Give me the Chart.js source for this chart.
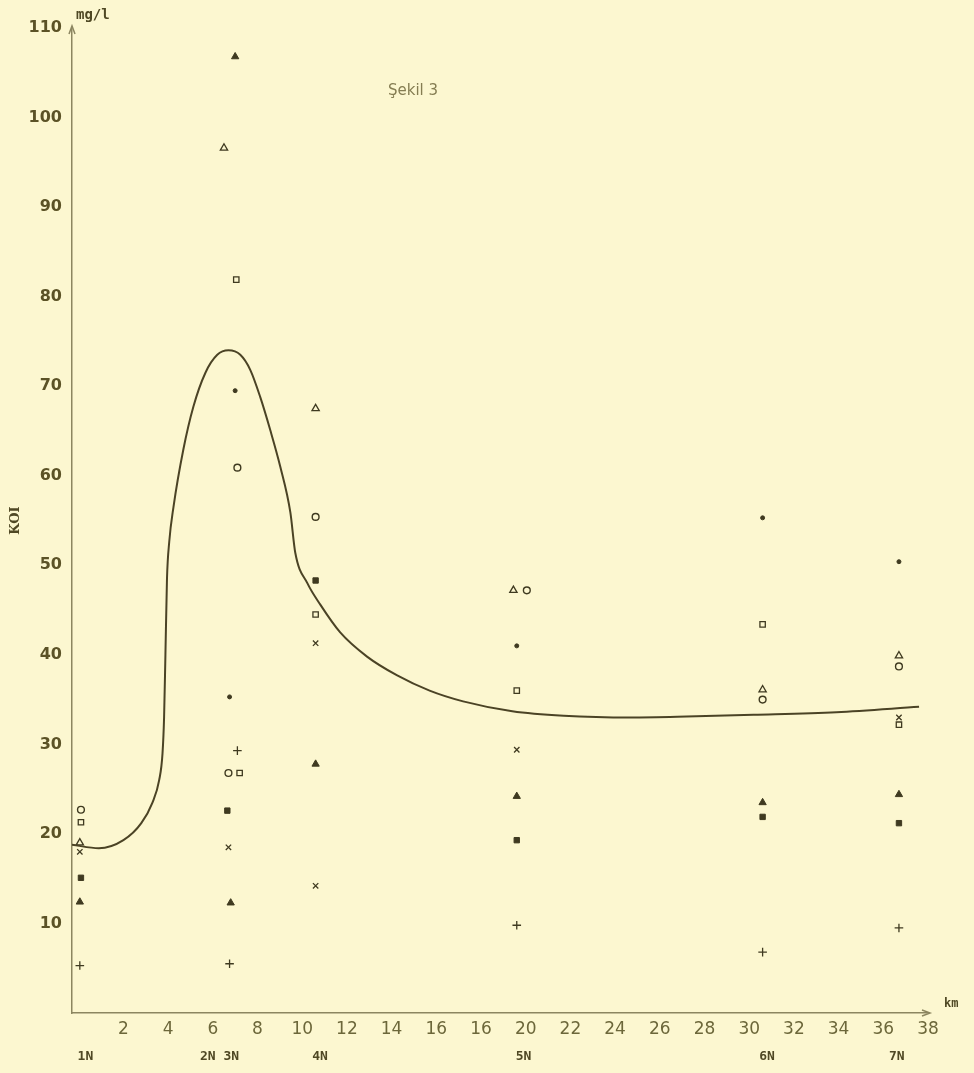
<!DOCTYPE html>
<html>
<head>
<meta charset="utf-8">
<script src="https://cdn.jsdelivr.net/npm/chart.js@4"></script>
<style>
  html, body { margin: 0; padding: 0; background: #fcf7d0; }
  #wrap { width: 974px; height: 1073px; position: relative; }
</style>
</head>
<body>
<div id="wrap"><canvas id="c" width="974" height="1073"></canvas></div>
<script>
// ---- data ----
const xTickKm = [2,4,6,8,10,12,14,16,18,20,22,24,26,28,30,32,34,36,38];
const xTickLabels = ['2','4','6','8','10','12','14','16','16','20','22','24','26','28','30','32','34','36','38'];
const stationKm = [0.3, 6.3, 10.8, 19.9, 30.8, 36.6];
const stationLabels = ['1N', '2N 3N', '4N', '5N', '6N', '7N'];
const yTickValues = [10,20,30,40,50,60,70,80,90,100,110];

// smooth curve (km, KOI mg/l)
const curveKm  = [-0.3, 0.9, 2.0, 2.8, 3.3, 3.6, 3.75, 3.82, 3.88, 3.95, 4.05, 4.24, 4.68, 5.13, 5.67, 6.2, 6.7, 7.23, 7.68, 8.12, 8.57, 9.02, 9.47, 9.69, 10.23, 10.81, 11.7, 12.9, 14.25, 15.7, 17.2, 19.4, 21.7, 24.7, 27.2, 30.2, 33.9, 37.6];
const curveKOI = [18.8, 18.4, 19.3, 21.2, 23.5, 26.0, 29.0, 33.0, 40.0, 48.5, 52.6, 56.5, 62.9, 67.7, 71.5, 73.5, 74.0, 73.5, 71.8, 68.8, 65.1, 61.0, 55.9, 51.4, 48.0, 45.6, 42.5, 39.8, 37.7, 36.0, 34.8, 33.7, 33.2, 33.0, 33.1, 33.3, 33.6, 34.2];

// measured points by marker
const triFilledKm  = [0.05, 7.0, 6.8, 10.6, 19.6, 30.6, 36.7];
const triFilledKOI = [12.4, 106.8, 12.3, 27.8, 24.2, 23.5, 24.4];
const triOpenKm    = [0.05, 6.5, 10.6, 19.45, 30.6, 36.7];
const triOpenKOI   = [19.0, 96.6, 67.5, 47.2, 36.1, 39.9];
const circleKm     = [0.1, 7.1, 6.7, 10.6, 20.05, 30.6, 36.7];
const circleKOI    = [22.7, 60.9, 26.8, 55.4, 47.2, 35.0, 38.7];
const dotKm        = [7.0, 6.75, 19.6, 30.6, 36.7];
const dotKOI       = [69.5, 35.3, 41.0, 55.3, 50.4];
const crossKm      = [0.05, 6.7, 10.6, 10.6, 19.6, 36.7];
const crossKOI     = [18.0, 18.5, 41.3, 14.2, 29.4, 33.0];
const sqFilledKm   = [0.1, 6.65, 10.6, 19.6, 30.6, 36.7];
const sqFilledKOI  = [15.1, 22.6, 48.3, 19.3, 21.9, 21.2];
const plusKm       = [0.05, 7.1, 6.75, 19.6, 30.6, 36.7];
const plusKOI      = [5.3, 29.3, 5.5, 9.8, 6.8, 9.5];
const sqOpenKm     = [0.1, 7.05, 7.2, 10.6, 19.6, 30.6, 36.7];
const sqOpenKOI    = [21.3, 81.9, 26.8, 44.5, 36.0, 43.4, 32.2];

// ---- styling ----
const BG = '#fcf7d0';
const INK = '#3f3a20';
const LINE = '#4b4325';
const AXIS = '#8c8660';
const pts = (xs, ys) => xs.map((x, i) => ({ x: x, y: ys[i] }));

function markerSet(label, xs, ys, style, radius, filled, bw) {
  return {
    label: label,
    data: pts(xs, ys),
    pointStyle: style,
    pointRadius: radius,
    pointHoverRadius: radius,
    pointBackgroundColor: filled ? INK : BG,
    pointBorderColor: INK,
    pointBorderWidth: bw,
    showLine: false
  };
}

const decor = {
  id: 'decor',
  beforeDraw(chart) {
    const ctx = chart.ctx;
    ctx.save();
    ctx.fillStyle = BG;
    ctx.fillRect(0, 0, chart.width, chart.height);
    ctx.restore();
  },
  afterDraw(chart) {
    const ctx = chart.ctx;
    const a = chart.chartArea;
    ctx.save();
    ctx.strokeStyle = AXIS;
    ctx.lineWidth = 1.5;
    // arrow on y axis
    ctx.beginPath();
    ctx.moveTo(a.left - 3, a.top + 6);
    ctx.lineTo(a.left, a.top - 2);
    ctx.lineTo(a.left + 3, a.top + 6);
    ctx.stroke();
    // arrow on x axis
    ctx.beginPath();
    ctx.moveTo(a.right - 6, a.bottom - 3);
    ctx.lineTo(a.right + 2, a.bottom);
    ctx.lineTo(a.right - 6, a.bottom + 3);
    ctx.stroke();
    // texts
    ctx.fillStyle = '#4f4824';
    ctx.font = 'bold 14px "DejaVu Sans Mono", monospace';
    ctx.textBaseline = 'middle';
    ctx.textAlign = 'left';
    ctx.fillText('mg/l', a.left + 4, 15);
    ctx.font = 'bold 12px "DejaVu Sans Mono", monospace';
    ctx.fillText('km', a.right + 16, a.bottom - 9);
    ctx.fillStyle = '#857d52';
    ctx.font = '15px "DejaVu Sans", sans-serif';
    ctx.fillText('Şekil 3', 388, 91);
    ctx.restore();
  }
};

new Chart(document.getElementById('c'), {
  type: 'scatter',
  data: {
    datasets: [
      {
        label: 'KOI',
        data: pts(curveKm, curveKOI),
        showLine: true,
        borderColor: LINE,
        borderWidth: 2,
        pointRadius: 0,
        pointHoverRadius: 0,
        cubicInterpolationMode: 'monotone',
        fill: false
      },
      markerSet('▲', triFilledKm, triFilledKOI, 'triangle', 4.2, true, 1),
      markerSet('Δ', triOpenKm, triOpenKOI, 'triangle', 4.2, false, 1.3),
      markerSet('o', circleKm, circleKOI, 'circle', 3.4, false, 1.4),
      markerSet('•', dotKm, dotKOI, 'circle', 2, true, 1),
      markerSet('x', crossKm, crossKOI, 'crossRot', 3.8, false, 1.3),
      markerSet('■', sqFilledKm, sqFilledKOI, 'rect', 3.8, true, 1),
      markerSet('+', plusKm, plusKOI, 'cross', 4.3, false, 1.3),
      markerSet('□', sqOpenKm, sqOpenKOI, 'rect', 3.8, false, 1.3)
    ]
  },
  options: {
    responsive: false,
    animation: false,
    devicePixelRatio: 1,
    layout: { padding: { top: 28, right: 46, bottom: 0, left: 0 } },
    plugins: { legend: { display: false }, tooltip: { enabled: false } },
    scales: {
      x: {
        type: 'linear',
        position: 'bottom',
        min: -0.3,
        max: 38,
        grid: { display: false, drawTicks: false },
        border: { display: true, color: AXIS, width: 1.5 },
        afterBuildTicks: (s) => { s.ticks = xTickKm.map(v => ({ value: v })); },
        afterFit: (s) => { s.height = 28; },
        ticks: {
          autoSkip: false,
          maxRotation: 0,
          padding: 6,
          color: '#6c673a',
          font: { family: '"DejaVu Sans", sans-serif', size: 17 },
          callback: (v, i) => xTickLabels[i]
        }
      },
      x2: {
        type: 'linear',
        position: 'bottom',
        min: -0.3,
        max: 38,
        grid: { display: false, drawTicks: false },
        border: { display: false },
        afterBuildTicks: (s) => { s.ticks = stationKm.map(v => ({ value: v })); },
        afterFit: (s) => { s.height = 32; },
        ticks: {
          autoSkip: false,
          maxRotation: 0,
          padding: 8,
          color: '#4f4824',
          font: { family: '"DejaVu Sans Mono", monospace', size: 13, weight: 'bold' },
          callback: (v, i) => stationLabels[i]
        }
      },
      y: {
        type: 'linear',
        min: 0,
        max: 110,
        grid: { display: false, drawTicks: false },
        border: { display: true, color: AXIS, width: 1.5 },
        afterBuildTicks: (s) => { s.ticks = yTickValues.map(v => ({ value: v })); },
        afterFit: (s) => { s.width = 72; },
        title: {
          display: true,
          text: 'KOI',
          color: '#4f4824',
          font: { family: '"DejaVu Serif", serif', size: 13, weight: 'bold' },
          padding: { top: 8, bottom: 0 }
        },
        ticks: {
          padding: 10,
          color: '#5b5226',
          font: { family: '"DejaVu Sans", sans-serif', size: 16, weight: 'bold' },
          callback: (v, i) => String(yTickValues[i])
        }
      }
    }
  },
  plugins: [decor]
});
</script>
</body>
</html>
